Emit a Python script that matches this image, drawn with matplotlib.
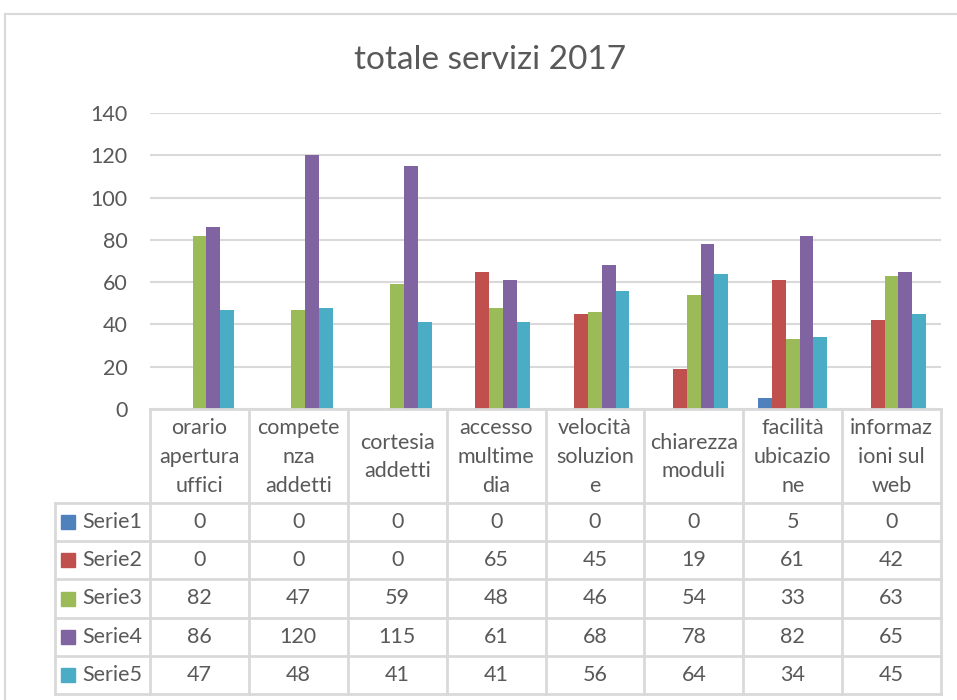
import matplotlib.pyplot as plt
import numpy as np

# dati
categorie = ["orario\napertura\nuffici", "compete\nnza\naddetti", "cortesia\naddetti",
             "accesso\nmultime\ndia", "velocità\nsoluzion\ne", "chiarezza\nmoduli",
             "facilità\nubicazio\nne", "informaz\nioni sul\nweb"]
serie_nomi = ["Serie1", "Serie2", "Serie3", "Serie4", "Serie5"]
serie1 = [0, 0, 0, 0, 0, 0, 5, 0]
serie2 = [0, 0, 0, 65, 45, 19, 61, 42]
serie3 = [82, 47, 59, 48, 46, 54, 33, 63]
serie4 = [86, 120, 115, 61, 68, 78, 82, 65]
serie5 = [47, 48, 41, 41, 56, 64, 34, 45]
colori = ["#4F81BD", "#C0504D", "#9BBB59", "#8064A2", "#4BACC6"]
yticks = [0, 20, 40, 60, 80, 100, 120, 140]

valori = [serie1, serie2, serie3, serie4, serie5]

plt.rcParams['font.family'] = ['Lato', 'DejaVu Sans']
testo = "#595959"
griglia = "#D9D9D9"
fs = 15.5

W, H = 957, 700
fig = plt.figure(figsize=(W / 100, H / 100), dpi=100)

def px(x0, y0, x1, y1):
    # rettangolo in pixel (alto a sinistra) -> coordinate figura
    return [x0 / W, 1 - y1 / H, (x1 - x0) / W, (y1 - y0) / H]

# bordo del grafico
fig.add_artist(plt.Line2D([5 / W, 5 / W], [0, 1 - 14 / H], color=griglia, lw=1.5))
fig.add_artist(plt.Line2D([5 / W, 1], [1 - 14 / H, 1 - 14 / H], color=griglia, lw=1.5))

fig.text(490 / W, 1 - 60 / H, "totale servizi 2017", ha="center", va="center",
         fontsize=24, color=testo)

# area del grafico
x_left, x_right, y_top, y_zero = 150, 941, 113, 409
ax = fig.add_axes(px(x_left, y_top, x_right, y_zero))
n = len(categorie)
x = np.arange(n)
gap = 2.19
w = 1 / (5 + gap)
for i, (vals, col) in enumerate(zip(valori, colori)):
    ax.bar(x + (i - 2) * w, vals, width=w, color=col, zorder=3)
ax.set_xlim(-0.5, n - 0.5)
ax.set_ylim(0, 140)
ax.set_yticks(yticks)
ax.set_yticklabels([str(t) for t in yticks], fontsize=fs, color=testo)
ax.tick_params(axis="y", length=0, pad=16)
ax.set_xticks([])
ax.grid(axis="y", color=griglia, lw=1.5, zorder=0)
for s in ax.spines.values():
    s.set_visible(False)

# tabella dati
t_left, t_bottom = 55, 694
head_bottom = 503
row_h = (t_bottom - head_bottom) / 5
cat_w = (x_right - x_left) / n
xl = -0.5 - (x_left - t_left) / cat_w
tax = fig.add_axes(px(t_left, y_zero, x_right, t_bottom))
tax.set_xlim(xl, n - 0.5)
tax.set_ylim(t_bottom, y_zero)
tax.axis("off")

lw = 2
tax.plot([-0.5, n - 0.5], [y_zero, y_zero], color=griglia, lw=lw, clip_on=False)
for j in range(6):
    yy = head_bottom + j * row_h
    tax.plot([xl, n - 0.5], [yy, yy], color=griglia, lw=lw, clip_on=False)
for k in range(n + 1):
    tax.plot([k - 0.5, k - 0.5], [y_zero, t_bottom], color=griglia, lw=lw, clip_on=False)
tax.plot([xl, xl], [head_bottom, t_bottom], color=griglia, lw=lw, clip_on=False)

for k, cat in enumerate(categorie):
    tax.text(k, (y_zero + head_bottom) / 2 + 1, cat, ha="center", va="center",
             fontsize=fs, color=testo, linespacing=1.55)

for j, (nome, vals, col) in enumerate(zip(serie_nomi, valori, colori)):
    yc = head_bottom + (j + 0.5) * row_h
    tax.plot([xl + 0.135], [yc], marker="s", ms=9.5, color=col, clip_on=False)
    tax.text(xl + 0.28, yc, nome, ha="left", va="center", fontsize=fs, color=testo)
    for k, v in enumerate(vals):
        tax.text(k, yc, str(v), ha="center", va="center", fontsize=fs, color=testo)

fig.savefig("out.png", dpi=100)
